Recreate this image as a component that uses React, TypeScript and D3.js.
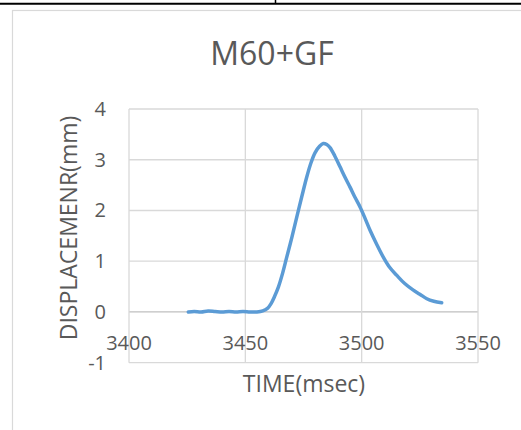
import React from "react";
import * as d3 from "d3";

const timeMs: number[] = [
  3425.5, 3428, 3431, 3434, 3437, 3440, 3443, 3446, 3449, 3452, 3455, 3457.5,
  3459.5, 3461, 3462.5, 3464.2, 3466, 3467.8, 3470, 3472.1, 3474.3, 3476.4, 3478.3,
  3480, 3482, 3483.5, 3485, 3486.4, 3488.5, 3490.7, 3493, 3495, 3497, 3499.3,
  3501.5, 3503.6, 3506.5, 3509.3, 3512, 3515.1, 3518.5, 3522.2, 3525, 3528, 3531, 3534.4,
];
const displacement: number[] = [
  0, 0.01, 0.0, 0.02, 0.01, 0.0, 0.01, 0.0, 0.01, 0.0, 0.0, 0.02,
  0.07, 0.16, 0.3, 0.49, 0.76, 1.08, 1.47, 1.87, 2.28, 2.66, 2.95,
  3.14, 3.27, 3.32, 3.3, 3.24, 3.07, 2.86, 2.64, 2.46, 2.27, 2.07,
  1.84, 1.61, 1.33, 1.08, 0.88, 0.72, 0.56, 0.43, 0.35, 0.26, 0.21, 0.18,
];

const xTicks: number[] = [3400, 3450, 3500, 3550];
const yTicks: number[] = [-1, 0, 1, 2, 3, 4];
const chartTitle = "M60+GF";
const xTitle = "TIME(msec)";
const yTitle = "DISPLACEMENR(mm)";

const W = 521;
const H = 430;
const plot = { left: 129, right: 478, top: 109, bottom: 362.7 };
const FONT = "'Open Sans', sans-serif";
const TEXT = "#595959";
const GRID = "#d9d9d9";

export default function App() {
  const x = d3.scaleLinear().domain([3400, 3550]).range([plot.left, plot.right]);
  const y = d3.scaleLinear().domain([-1, 4]).range([plot.bottom, plot.top]);
  const pts: [number, number][] = timeMs.map((t, i) => [t, displacement[i]]);
  const line = d3
    .line<[number, number]>()
    .x((d) => x(d[0]))
    .y((d) => y(d[1]))
    .curve(d3.curveCatmullRom.alpha(0.5));

  return (
    <svg
      width={W}
      height={H}
      style={{ position: "absolute", left: 0, top: 0, background: "#fff" }}
    >
      <rect x={0} y={0} width={W} height={H} fill="#fff" />
      {/* table borders */}
      <line x1={0} x2={W} y1={3.8} y2={3.8} stroke="#000" strokeWidth={2} />
      <line x1={275.5} x2={275.5} y1={0} y2={4} stroke="#000" strokeWidth={1.5} />
      {/* chart area border */}
      <rect x={12.5} y={10.5} width={600} height={500} fill="#fff" stroke={GRID} strokeWidth={1.2} />

      <text x={272} y={65} textAnchor="middle" fontFamily={FONT} fontSize={32} fill={TEXT}>
        {chartTitle}
      </text>

      {/* gridlines */}
      {yTicks.map((v) => (
        <line
          key={"gy" + v}
          x1={plot.left}
          x2={plot.right}
          y1={y(v)}
          y2={y(v)}
          stroke={v === 0 ? "#bfbfbf" : GRID}
          strokeWidth={1.3}
        />
      ))}
      {xTicks.map((v) => (
        <line
          key={"gx" + v}
          x1={x(v)}
          x2={x(v)}
          y1={plot.top}
          y2={plot.bottom}
          stroke={GRID}
          strokeWidth={1.3}
        />
      ))}

      {/* y tick labels */}
      {yTicks.map((v) => (
        <text
          key={"ty" + v}
          x={106}
          y={y(v)}
          dy="0.35em"
          textAnchor="end"
          fontFamily={FONT}
          fontSize={20}
          fill={TEXT}
        >
          {v}
        </text>
      ))}
      {/* x tick labels */}
      {xTicks.map((v) => (
        <text
          key={"tx" + v}
          x={x(v)}
          y={350}
          textAnchor="middle"
          fontFamily={FONT}
          fontSize={20}
          fill={TEXT}
        >
          {v}
        </text>
      ))}

      <path d={line(pts) || ""} fill="none" stroke="#5b9bd5" strokeWidth={3.5} strokeLinecap="round" strokeLinejoin="round" />

      <text x={304} y={392} textAnchor="middle" fontFamily={FONT} fontSize={23} fill={TEXT}>
        {xTitle}
      </text>
      <text
        transform="translate(77,228) rotate(-90)"
        textAnchor="middle"
        fontFamily={FONT}
        fontSize={23}
        fill={TEXT}
      >
        {yTitle}
      </text>
    </svg>
  );
}
